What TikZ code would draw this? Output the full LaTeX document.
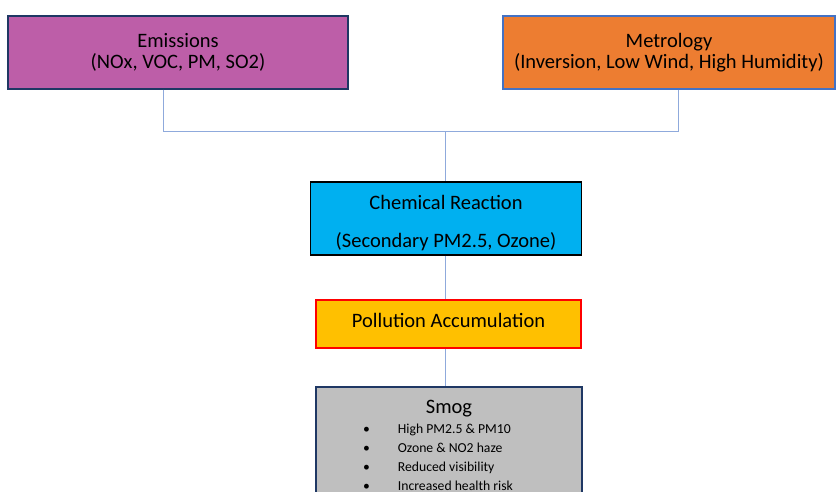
\documentclass[tikz,border=0pt]{standalone}
\usepackage{fontspec}
\setmainfont{Carlito}
\usepackage{tikz}

\definecolor{emisfill}{RGB}{189,94,168}
\definecolor{emisline}{RGB}{31,56,100}
\definecolor{meteofill}{RGB}{237,125,49}
\definecolor{meteoline}{RGB}{68,114,196}
\definecolor{chemfill}{RGB}{0,176,240}
\definecolor{pollfill}{RGB}{255,192,0}
\definecolor{smogfill}{RGB}{191,191,191}
\definecolor{linkblue}{RGB}{143,170,220}

\begin{document}
\begin{tikzpicture}[x=1pt,y=-1pt,
    box/.style={draw, line width=1.5pt, align=center, inner sep=0pt,
                font=\fontsize{20.5}{21.5}\selectfont},
    link/.style={draw=linkblue, line width=0.9pt}]
                        \useasboundingbox (0,0) rectangle (837,492);
                        \clip (0,0) rectangle (837,492);

                        % Nodes
                        \node[box, fill=emisfill, draw=emisline, minimum width=340pt, minimum height=73pt] (emis) at (178,52.5) {Emissions\\(NOx, VOC, PM, SO2)};
                        \node[box, fill=meteofill, draw=meteoline, minimum width=332pt, minimum height=73pt] (meteo) at (669,52.5) {Metrology\\(Inversion, Low Wind, High Humidity)};
                        \node[box, fill=chemfill, draw=black, minimum width=271pt, minimum height=73pt] (chem) at (446,218.5)
                            {\raisebox{-5.5pt}[\height][\depth]{\begin{tabular}{@{}c@{}}Chemical Reaction\\[17pt](Secondary PM2.5, Ozone)\end{tabular}}};
                        \node[box, fill=pollfill, draw=red, minimum width=265pt, minimum height=48pt] (poll) at (448.5,324)
                            {\raisebox{4pt}[\height][\depth]{Pollution Accumulation}};
                        \node[box, fill=smogfill, draw=emisline, minimum width=266pt, minimum height=122pt] (smog) at (449,448)
                            {{\fontsize{20.5}{22}\selectfont Smog}\\[2pt]
                             \fontsize{13.7}{19}\selectfont
                             \begin{tabular}{@{}l@{\hspace{28pt}}l@{\hspace{22pt}}}
                               \textbullet & High PM2.5 \& PM10\\
                               \textbullet & Ozone \& NO2 haze\\
                               \textbullet & Reduced visibility\\
                               \textbullet & Increased health risk
                             \end{tabular}};
                        \coordinate (join) at (445,131);

                        % Edges
                        \draw[link] ([xshift=-15pt]emis.south) |- (join);
                        \draw[link] ([xshift=9pt]meteo.south) |- (join);
                        \draw[link] (join) -- (join |- chem.north);
                        \draw[link] (join |- chem.south) -- (join |- poll.north);
                        \draw[link] (join |- poll.south) -- (join |- smog.north);
                    \end{tikzpicture}
\end{document}
